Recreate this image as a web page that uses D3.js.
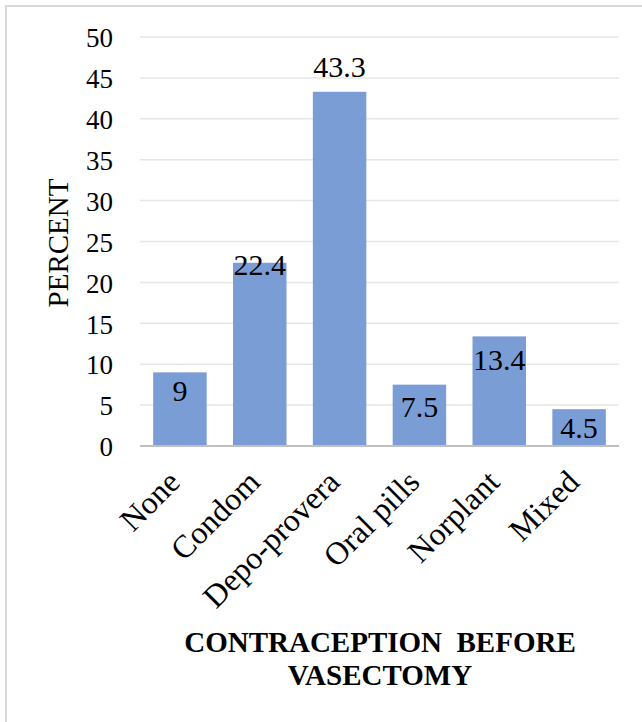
<!DOCTYPE html>
<html>
<head>
<meta charset="utf-8">
<script src="https://cdn.jsdelivr.net/npm/d3@7"></script>
<style>
  body { margin: 0; background: #fff; }
  text { font-family: "Liberation Serif", "Times New Roman", serif; fill: #000; }
</style>
</head>
<body>
<script>
const categories = ['None', 'Condom', 'Depo-provera', 'Oral pills', 'Norplant', 'Mixed'];
const percents = [9, 22.4, 43.3, 7.5, 13.4, 4.5];
const yTicks = [0, 5, 10, 15, 20, 25, 30, 35, 40, 45, 50];

const width = 642;
const height = 722;
const margin = { top: 37, right: 23, bottom: 276, left: 140 };

const svg = d3.select('body')
  .append('svg')
  .attr('width', width)
  .attr('height', height);

// outer frame
svg.append('rect')
  .attr('x', 6)
  .attr('y', 6)
  .attr('width', 660)
  .attr('height', 740)
  .attr('fill', 'none')
  .attr('stroke', '#d9d9d9')
  .attr('stroke-width', 2);

const x = d3.scaleBand()
  .domain(categories)
  .range([margin.left, width - margin.right])
  .paddingInner(0.33)
  .paddingOuter(0.165);

const y = d3.scaleLinear()
  .domain([0, 50])
  .range([height - margin.bottom, margin.top]);

// gridlines
svg.append('g')
  .selectAll('line')
  .data(yTicks.filter(d => d > 0))
  .enter()
  .append('line')
  .attr('x1', margin.left)
  .attr('x2', width - margin.right)
  .attr('y1', d => y(d))
  .attr('y2', d => y(d))
  .attr('stroke', '#e6e6e6')
  .attr('stroke-width', 1.5);

// y axis labels
const yAxis = d3.axisLeft(y).tickValues(yTicks).tickSize(0).tickPadding(0);
svg.append('g')
  .attr('transform', `translate(${margin.left - 27},0)`)
  .call(yAxis)
  .attr('font-family', null)
  .call(g => g.select('.domain').remove())
  .selectAll('text')
  .attr('font-size', 27)
  .attr('dy', '0.36em');

// bars
svg.append('g')
  .selectAll('rect')
  .data(percents)
  .enter()
  .append('rect')
  .attr('x', (d, i) => x(categories[i]))
  .attr('y', d => y(d))
  .attr('width', x.bandwidth())
  .attr('height', d => y(0) - y(d))
  .attr('fill', '#7b9dd6');

// baseline
svg.append('line')
  .attr('x1', margin.left)
  .attr('x2', width - margin.right)
  .attr('y1', y(0))
  .attr('y2', y(0))
  .attr('stroke', '#bfbfbf')
  .attr('stroke-width', 2);

// data labels (baseline offset from bar top, as placed in the original)
const labelDy = [29, 12, -15, 32, 34, 29];
svg.append('g')
  .selectAll('text')
  .data(percents)
  .enter()
  .append('text')
  .attr('x', (d, i) => x(categories[i]) + x.bandwidth() / 2)
  .attr('y', (d, i) => y(d) + labelDy[i])
  .attr('text-anchor', 'middle')
  .attr('font-size', 30)
  .text(d => d);

// category labels
const xAxis = d3.axisBottom(x).tickSize(0).tickPadding(0);
svg.append('g')
  .attr('transform', `translate(0,${y(0)})`)
  .call(xAxis)
  .attr('font-family', null)
  .call(g => g.select('.domain').remove())
  .selectAll('text')
  .attr('font-size', 32)
  .attr('text-anchor', 'end')
  .attr('dy', 0)
  .attr('transform', 'translate(2,38) rotate(-45)');

// y axis title
svg.append('text')
  .attr('transform', `translate(68,243) rotate(-90)`)
  .attr('text-anchor', 'middle')
  .attr('font-size', 29)
  .text('PERCENT');

// x axis title
const xTitle = svg.append('text')
  .attr('text-anchor', 'middle')
  .attr('font-size', 29)
  .attr('font-weight', 'bold');
xTitle.append('tspan')
  .attr('x', 380)
  .attr('y', 652)
  .style('white-space', 'pre')
  .text('CONTRACEPTION  BEFORE');
xTitle.append('tspan')
  .attr('x', 380)
  .attr('y', 685)
  .text('VASECTOMY');
</script>
</body>
</html>
